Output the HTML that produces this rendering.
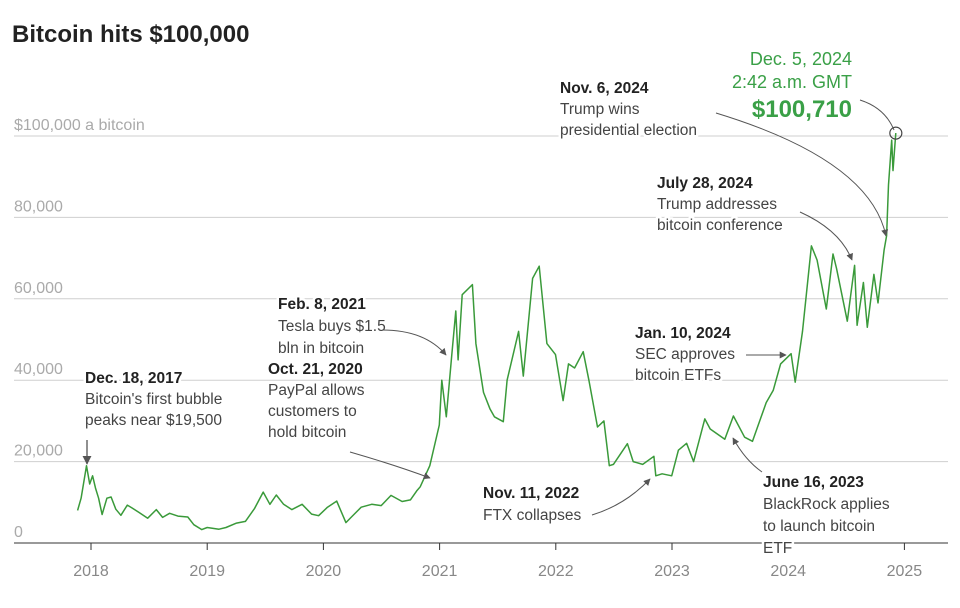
<!DOCTYPE html>
<html><head><meta charset="utf-8"><style>
body{margin:0;background:#fff;font-family:"Liberation Sans",sans-serif}
svg text{font-family:"Liberation Sans",sans-serif}
.ann text{paint-order:stroke;stroke:#fff;stroke-width:5px;stroke-linejoin:round}
</style></head><body>
<svg width="960" height="603" viewBox="0 0 960 603">
<defs><marker id="ah" viewBox="0 0 10 10" refX="9" refY="5" markerWidth="7" markerHeight="7" orient="auto"><path d="M0,0L10,5L0,10z" fill="#555"/></marker></defs>
<text x="12" y="42" font-size="24" font-weight="bold" fill="#222">Bitcoin hits $100,000</text>
<g id="grid"></g>
<g id="ylabels"></g>
<g id="xaxis"></g>
<path id="line" fill="none" stroke="#3a9a3a" stroke-width="1.5" stroke-linejoin="round"/>
<circle id="peak" r="6" fill="none" stroke="#444" stroke-width="1.2"/>
<g class="ann" font-size="15.5" fill="#444">
<g><text x="85" y="383"><tspan font-weight="bold" fill="#222">Dec. 18, 2017</tspan><tspan x="85" dy="21">Bitcoin's first bubble</tspan><tspan x="85" dy="21">peaks near $19,500</tspan></text>
<path d="M87,440 L87,464" stroke="#555" stroke-width="1.3" marker-end="url(#ah)"/></g>
<g><text x="278" y="309"><tspan font-weight="bold" fill="#222">Feb. 8, 2021</tspan><tspan x="278" dy="22">Tesla buys $1.5</tspan><tspan x="278" dy="22">bln in bitcoin</tspan></text>
<path d="M382,330 Q425,330 446,355" fill="none" stroke="#555" marker-end="url(#ah)"/></g>
<g><text x="268" y="374"><tspan font-weight="bold" fill="#222">Oct. 21, 2020</tspan><tspan x="268" dy="21">PayPal allows</tspan><tspan x="268" dy="21">customers to</tspan><tspan x="268" dy="21">hold bitcoin</tspan></text>
<path d="M350,452 Q395,465 430,478" fill="none" stroke="#555" marker-end="url(#ah)"/></g>
<g><text x="483" y="498"><tspan font-weight="bold" fill="#222">Nov. 11, 2022</tspan><tspan x="483" dy="22">FTX collapses</tspan></text>
<path d="M592,515 Q625,505 650,479" fill="none" stroke="#555" marker-end="url(#ah)"/></g>
<g><text x="635" y="338"><tspan font-weight="bold" fill="#222">Jan. 10, 2024</tspan><tspan x="635" dy="21">SEC approves</tspan><tspan x="635" dy="21">bitcoin ETFs</tspan></text>
<path d="M746,355 L786,355" stroke="#555" marker-end="url(#ah)"/></g>
<g><text x="763" y="487"><tspan font-weight="bold" fill="#222">June 16, 2023</tspan><tspan x="763" dy="22">BlackRock applies</tspan><tspan x="763" dy="22">to launch bitcoin</tspan><tspan x="763" dy="22">ETF</tspan></text>
<path d="M762,472 Q745,460 733,438" fill="none" stroke="#555" marker-end="url(#ah)"/></g>
<g><text x="657" y="188"><tspan font-weight="bold" fill="#222">July 28, 2024</tspan><tspan x="657" dy="21">Trump addresses</tspan><tspan x="657" dy="21">bitcoin conference</tspan></text>
<path d="M800,212 Q840,230 852,260" fill="none" stroke="#555" marker-end="url(#ah)"/></g>
<g><text x="560" y="93"><tspan font-weight="bold" fill="#222">Nov. 6, 2024</tspan><tspan x="560" dy="21">Trump wins</tspan><tspan x="560" dy="21">presidential election</tspan></text>
<path d="M716,113 Q870,160 886,236" fill="none" stroke="#555" marker-end="url(#ah)"/></g>
<g fill="#3aa047"><text x="852" y="65" text-anchor="end" font-size="18">Dec. 5, 2024</text><text x="852" y="88" text-anchor="end" font-size="18">2:42 a.m. GMT</text><text x="852" y="117" text-anchor="end" font-size="24" font-weight="bold">$100,710</text>
<path d="M860,100 Q885,108 894,130" fill="none" stroke="#555"/></g>
</g>
</svg>
<script>
const dates=["2017-11-20","2017-12-01","2017-12-18","2017-12-28","2018-01-06","2018-01-15","2018-01-25","2018-02-05","2018-02-20","2018-03-05","2018-03-20","2018-04-05","2018-04-25","2018-05-10","2018-06-01","2018-06-28","2018-07-25","2018-08-14","2018-09-05","2018-10-01","2018-11-01","2018-11-20","2018-12-15","2019-01-01","2019-02-07","2019-03-01","2019-04-03","2019-05-01","2019-05-30","2019-06-26","2019-07-17","2019-08-06","2019-08-29","2019-09-24","2019-10-26","2019-11-25","2019-12-17","2020-01-14","2020-02-12","2020-03-12","2020-04-01","2020-04-29","2020-06-01","2020-07-01","2020-08-01","2020-09-05","2020-10-01","2020-10-21","2020-11-01","2020-12-01","2020-12-31","2021-01-08","2021-01-22","2021-02-08","2021-02-21","2021-02-28","2021-03-13","2021-04-14","2021-04-25","2021-05-19","2021-06-08","2021-06-22","2021-07-20","2021-08-01","2021-09-06","2021-09-21","2021-10-20","2021-11-10","2021-12-04","2021-12-31","2022-01-24","2022-02-10","2022-03-01","2022-03-28","2022-04-15","2022-05-12","2022-06-01","2022-06-18","2022-07-01","2022-08-14","2022-09-01","2022-10-01","2022-11-05","2022-11-11","2022-12-01","2022-12-31","2023-01-21","2023-02-16","2023-03-10","2023-04-14","2023-05-01","2023-06-16","2023-07-13","2023-08-17","2023-09-11","2023-10-24","2023-11-15","2023-12-08","2024-01-10","2024-01-23","2024-02-15","2024-03-14","2024-04-01","2024-04-30","2024-05-21","2024-06-01","2024-07-05","2024-07-28","2024-08-05","2024-08-25","2024-09-06","2024-09-27","2024-10-10","2024-10-29","2024-11-06","2024-11-12","2024-11-22","2024-11-26","2024-12-05"];
const prices=[8000,11000,19000,14500,16500,13500,11000,7000,11000,11300,8300,6800,9300,8600,7500,6100,8200,6300,7300,6600,6400,4500,3300,3800,3400,3800,4900,5300,8500,12500,9500,11800,9500,8200,9500,7100,6700,8800,10300,5000,6600,8800,9500,9200,11700,10200,10600,12800,13800,19000,29000,40000,31000,46000,57000,45000,61000,63500,49000,37000,33000,31000,29800,40000,52000,41000,65000,68000,49000,46300,35000,44000,43000,47000,40000,28500,30000,19000,19300,24400,20000,19300,21300,16500,17000,16500,22800,24500,20000,30500,28000,25500,31200,26000,25000,34500,37500,44000,46500,39500,52000,73000,69500,57500,71000,67500,54500,68200,53500,64000,53000,66000,59000,72000,75500,88000,99000,91500,100710];
const yTicks=[0,20000,40000,60000,80000,100000];
const yTickLabels=["0","20,000","40,000","60,000","80,000","$100,000 a bitcoin"];
const xTicks=[2018,2019,2020,2021,2022,2023,2024,2025];
const NS="http://www.w3.org/2000/svg";
function yS(v){return 543-v*(543-136)/100000;}
function xYear(yr){return 91+(yr-2018)*116.2;}
function xS(d){const t=new Date(d+"T00:00:00Z");const y=t.getUTCFullYear();const s=Date.UTC(y,0,1),e=Date.UTC(y+1,0,1);return xYear(y+(t-s)/(e-s));}
const grid=document.getElementById('grid'),yl=document.getElementById('ylabels'),xa=document.getElementById('xaxis');
yTicks.forEach((v,i)=>{
  if(v>0){const l=document.createElementNS(NS,'line');
  
  
  l.setAttribute('x1',14);l.setAttribute('x2',948);l.setAttribute('y1',yS(v));l.setAttribute('y2',yS(v));l.setAttribute('stroke','#cfcfcf');grid.appendChild(l);}
  const t=document.createElementNS(NS,'text');
  
  
  t.setAttribute('x',14);t.setAttribute('y',yS(v)-6);t.setAttribute('font-size','16');t.setAttribute('fill','#aaa');t.textContent=yTickLabels[i];yl.appendChild(t);
});
const ax=document.createElementNS(NS,'line');


ax.setAttribute('x1',14);ax.setAttribute('x2',948);ax.setAttribute('y1',543);ax.setAttribute('y2',543);ax.setAttribute('stroke','#333');xa.appendChild(ax);
xTicks.forEach(yr=>{
  const x=xYear(yr);
  const tk=document.createElementNS(NS,'line');
  
  
  tk.setAttribute('x1',x);tk.setAttribute('x2',x);tk.setAttribute('y1',543);tk.setAttribute('y2',550);tk.setAttribute('stroke','#333');xa.appendChild(tk);
  const t=document.createElementNS(NS,'text');
  
  
  t.setAttribute('x',x);t.setAttribute('y',576);t.setAttribute('font-size','16');t.setAttribute('fill','#888');t.setAttribute('text-anchor','middle');t.textContent=yr;xa.appendChild(t);
});
document.getElementById('line').setAttribute('d',dates.map((d,i)=>(i?'L':'M')+xS(d).toFixed(1)+','+yS(prices[i]).toFixed(1)).join(''));
const pk=document.getElementById('peak');
pk.setAttribute('cx',xS(dates[dates.length-1]));pk.setAttribute('cy',yS(prices[prices.length-1]));
</script>
</body></html>
